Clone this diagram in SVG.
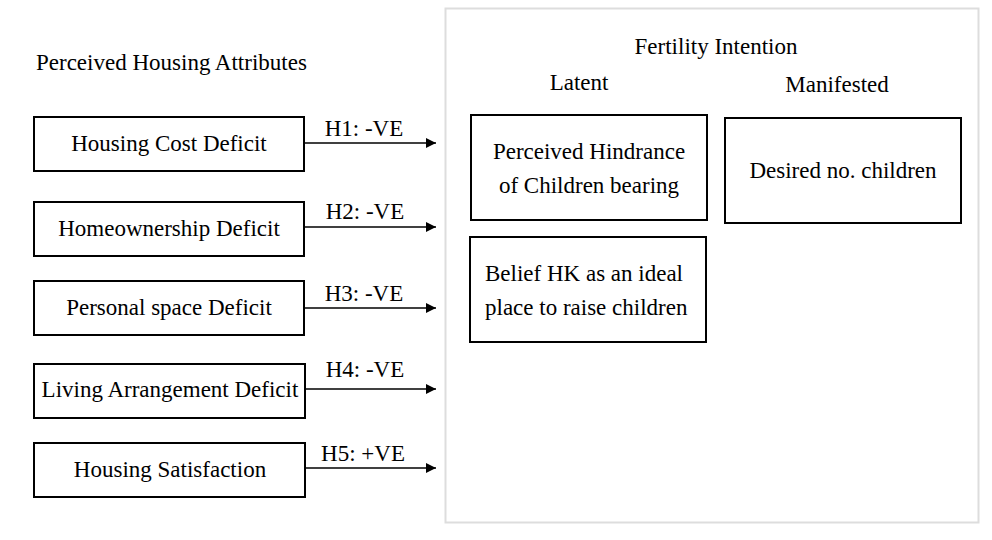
<svg xmlns="http://www.w3.org/2000/svg" width="992" height="540" viewBox="0 0 992 540">
<style>
text{font-family:"Liberation Serif","Times New Roman",serif;font-size:23px;fill:#000}
.box{fill:#fff;stroke:#000;stroke-width:2}
.c{text-anchor:middle}
.conn line{stroke:#000;stroke-width:1.6}
</style>
<defs>
<marker id="ah" viewBox="0 0 10 10" refX="10" refY="5" markerWidth="10" markerHeight="10" markerUnits="userSpaceOnUse" orient="auto">
<path d="M0,0 L10,5 L0,10 z" fill="#000"/>
</marker>
</defs>
<rect width="992" height="540" fill="#fff"/>
<g id="fertility-frame">
<rect x="445.5" y="8.5" width="533" height="514" fill="#fff" stroke="#ddd" stroke-width="2"/>
<text class="c" x="716" y="54">Fertility Intention</text>
<text class="c" x="579" y="90">Latent</text>
<text class="c" x="837" y="92">Manifested</text>
</g>
<text x="36" y="70">Perceived Housing Attributes</text>
<g id="n1"><rect class="box" x="34" y="117" width="270" height="54"/><text class="c" x="169" y="151">Housing Cost Deficit</text></g>
<g id="n2"><rect class="box" x="34" y="202" width="270" height="54"/><text class="c" x="169" y="236">Homeownership Deficit</text></g>
<g id="n3"><rect class="box" x="34" y="281" width="270" height="54"/><text class="c" x="169" y="315">Personal space Deficit</text></g>
<g id="n4"><rect class="box" x="34" y="364" width="271" height="54"/><text class="c" x="170" y="397">Living Arrangement Deficit</text></g>
<g id="n5"><rect class="box" x="34" y="443" width="271" height="54"/><text class="c" x="170" y="477">Housing Satisfaction</text></g>
<g id="latent1"><rect class="box" x="471" y="115" width="236" height="105"/><text class="c" x="589" y="159">Perceived Hindrance</text><text class="c" x="589" y="193">of Children bearing</text></g>
<g id="latent2"><rect class="box" x="470" y="237" width="236" height="105"/><text x="485" y="281">Belief HK as an ideal</text><text x="485" y="315">place to raise children</text></g>
<g id="manifest1"><rect class="box" x="725" y="118" width="236" height="105"/><text class="c" x="843" y="178">Desired no. children</text></g>
<g id="connectors" class="conn">
<line x1="304" y1="143" x2="436" y2="143" marker-end="url(#ah)"/>
<line x1="304" y1="227" x2="436" y2="227" marker-end="url(#ah)"/>
<line x1="304" y1="308" x2="436" y2="308" marker-end="url(#ah)"/>
<line x1="305" y1="389" x2="436" y2="389" marker-end="url(#ah)"/>
<line x1="305" y1="468" x2="436" y2="468" marker-end="url(#ah)"/>
<text class="c" x="364" y="136">H1: -VE</text>
<text class="c" x="365" y="219">H2: -VE</text>
<text class="c" x="364" y="301">H3: -VE</text>
<text class="c" x="365" y="377">H4: -VE</text>
<text class="c" x="363" y="461">H5: +VE</text>
</g>
</svg>
